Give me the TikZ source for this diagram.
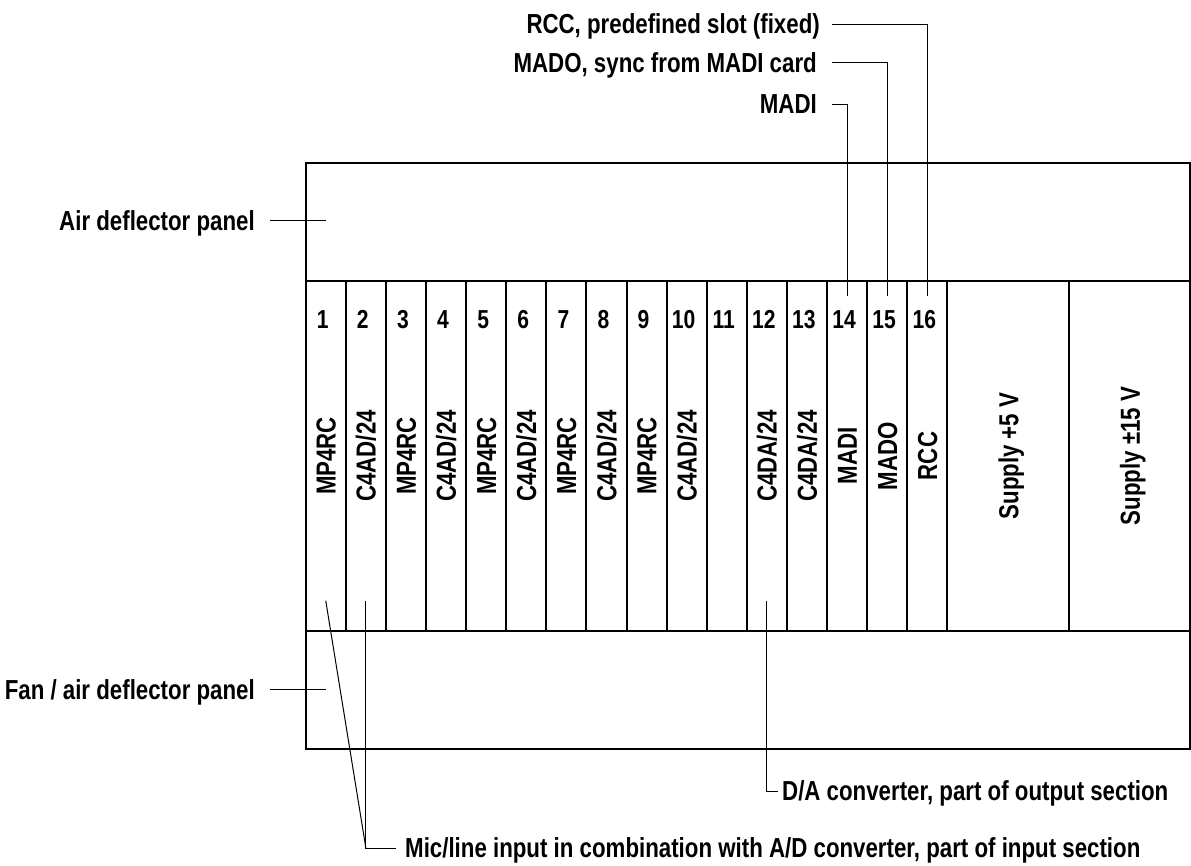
\documentclass[tikz,border=0pt]{standalone}
\usepackage{fontspec}
\setmainfont{Liberation Sans}[FakeStretch=0.81]
\usetikzlibrary{calc}
\tikzset{
  lbl/.style={font=\fontsize{27.5}{32}\selectfont\bfseries, inner sep=0pt, text height=19.7pt, text depth=0pt},
  num/.style={font=\fontsize{26}{30}\selectfont\bfseries, inner sep=0pt, text height=18.6pt, text depth=0pt},
  card/.style={lbl, rotate=90},
  leader/.style={line width=1pt},
  wall/.style={line width=1.4pt},
  slotline/.style={line width=2pt}
}
\begin{document}
\begin{tikzpicture}[x=1pt,y=-1pt]
    \useasboundingbox (0,0) rectangle (1191,865);
    % rack frame
    \draw[wall] (305.7,163) rectangle (1190,749);
    \draw[slotline] (305.7,163) -- (305.7,749);
    \draw[slotline] (1190,163) -- (1190,749);
    \draw[wall] (305.7,281) -- (1190,281);
    \draw[wall] (305.7,631) -- (1190,631);
    % slot dividers, 16 cards and two supplies
    \foreach \k in {1,...,16}
        \draw[slotline] ({305.7+40.1*\k},281) -- ({305.7+40.1*\k},631);
    \draw[slotline] (1069.3,281) -- (1069.3,631);
    % slot numbers and leader points
    \foreach \k in {1,...,16} {
        \node[num] (n\k) at ({305.7+40.1*(\k-0.5)-3},319.5) {\k};
        \coordinate (top\k) at ({305.7+40.1*(\k-0.5)},296);
        \coordinate (bot\k) at ({305.7+40.1*(\k-0.5)},600.7);
    }
    % cards
    \foreach \k/\card in {1/MP4RC,2/{C4AD/24},3/MP4RC,4/{C4AD/24},5/MP4RC,6/{C4AD/24},7/MP4RC,8/{C4AD/24},9/MP4RC,10/{C4AD/24},12/{C4DA/24},13/{C4DA/24},14/MADI,15/MADO,16/RCC}
        \node[card] (c\k) at ({305.7+40.1*(\k-0.5)},456) {\card};
    \node[card] (sup5) at (1008.5,456) {Supply +5 V};
    \node[card] (sup15) at (1130,456) {Supply ±15 V};
    % top labels
    \node[lbl, anchor=east] (rcc) at (820,24) {RCC, predefined slot (fixed)};
    \node[lbl, anchor=east] (mado) at (817,62.7) {MADO, sync from MADI card};
    \node[lbl, anchor=east] (madi) at (817,104) {MADI};
    \draw[leader, shorten <=12pt] (rcc.east) -| (top16);
    \draw[leader, shorten <=15pt] (mado.east) -| (top15);
    \draw[leader, shorten <=15pt] (madi.east) -| (top14);
    % panel labels
    \node[lbl, anchor=east] (air) at (255,220.5) {Air deflector panel};
    \node[lbl, anchor=east] (fan) at (255,689.3) {Fan / air deflector panel};
    \coordinate (airend) at (326,220.5);
    \coordinate (fanend) at (326,689.3);
    \draw[leader, shorten <=15pt] (air.east) -- (airend);
    \draw[leader, shorten <=15pt] (fan.east) -- (fanend);
    % bottom labels
    \node[lbl, anchor=west] (da) at (782,791) {D/A converter, part of output section};
    \node[lbl, anchor=west] (mic) at (405,848) {Mic/line input in combination with A/D converter, part of input section};
    \draw[leader, shorten >=4pt] (bot12) |- (da.west);
    \coordinate (micjoin) at (bot2 |- mic.west);
    \draw[leader] (bot1) -- (micjoin);
    \draw[leader, shorten >=9pt] (bot2) |- (mic.west);
\end{tikzpicture}
\end{document}
